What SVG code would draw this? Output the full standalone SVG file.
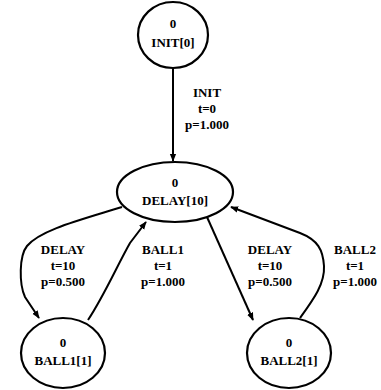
<svg xmlns="http://www.w3.org/2000/svg" width="381" height="390" viewBox="0 0 381 390">
  <style>
    .state { fill: #ffffff; stroke: #000000; stroke-width: 2.2; }
    .edge { fill: none; stroke: #000000; stroke-width: 2; marker-end: url(#arrow); }
    text { font-family: "Liberation Serif", "Times New Roman", serif; font-weight: bold; font-size: 13px; fill: #000000; text-anchor: middle; dominant-baseline: central; }
  </style>
  <defs>
    <marker id="arrow" viewBox="0 0 10 10" refX="9" refY="5" markerWidth="4" markerHeight="4" orient="auto" markerUnits="strokeWidth">
      <path d="M0,1 L10,5 L0,9 Z" fill="#000000"/>
    </marker>
  </defs>
  <rect width="381" height="390" fill="#ffffff"/>

  <g id="connectors">
    <path class="edge" d="M173,68 L173,161"/>
    <path class="edge" d="M122,207 C80,220 40,230 27,246 C19,256 19,284 25,297 L39,318"/>
    <path class="edge" d="M88,320 C104,296 118,264 130,243 L146,222"/>
    <path class="edge" d="M207,217 L253,320"/>
    <path class="edge" d="M300,318 C313,300 325,284 324,266 C323,250 318,240 300,233 L231,207"/>
  </g>

  <g id="edge-labels">
    <text x="207" y="92">INIT</text>
    <text x="207" y="108">t=0</text>
    <text x="207" y="124">p=1.000</text>
    <text x="63" y="249">DELAY</text>
    <text x="63" y="265">t=10</text>
    <text x="63" y="281">p=0.500</text>
    <text x="163" y="249">BALL1</text>
    <text x="163" y="265">t=1</text>
    <text x="163" y="281">p=1.000</text>
    <text x="270" y="249">DELAY</text>
    <text x="270" y="265">t=10</text>
    <text x="270" y="281">p=0.500</text>
    <text x="355" y="249">BALL2</text>
    <text x="355" y="265">t=1</text>
    <text x="355" y="281">p=1.000</text>
  </g>

  <g id="init">
    <ellipse class="state" cx="173" cy="35" rx="35" ry="33"/>
    <text x="173" y="23">0</text>
    <text x="173" y="42">INIT[0]</text>
  </g>
  <g id="delay">
    <ellipse class="state" cx="175" cy="192" rx="58" ry="30"/>
    <text x="175" y="182">0</text>
    <text x="175" y="200">DELAY[10]</text>
  </g>
  <g id="ball1">
    <ellipse class="state" cx="63" cy="353" rx="42" ry="35"/>
    <text x="63" y="342">0</text>
    <text x="63" y="360">BALL1[1]</text>
  </g>
  <g id="ball2">
    <ellipse class="state" cx="289" cy="353" rx="42" ry="35"/>
    <text x="289" y="342">0</text>
    <text x="289" y="360">BALL2[1]</text>
  </g>
</svg>
